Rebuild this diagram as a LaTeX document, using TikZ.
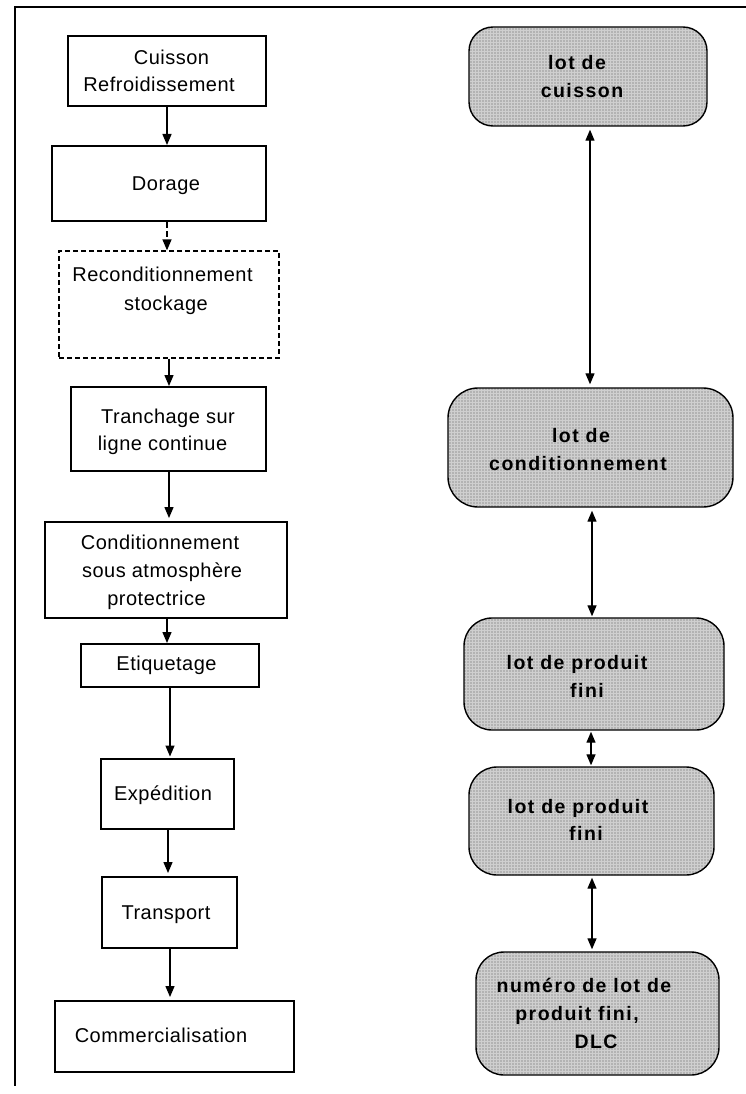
\documentclass[tikz,border=0pt]{standalone}
\usepackage{fontspec}
\setmainfont{Liberation Sans}[LetterSpace=2.5]
\newfontfamily\lotfont{Liberation Sans Bold}[LetterSpace=7.5]
\usetikzlibrary{arrows.meta,patterns.meta}
\begin{document}
\begin{tikzpicture}[x=1pt,y=-1pt,
  stepbox/.style={draw,line width=2pt,rectangle,inner sep=0pt},
  optbox/.style={stepbox,dashed,line width=1.3pt,dash pattern=on 5pt off 3pt},
  lotbox/.style={draw,line width=1.4pt,rectangle,rounded corners=24pt,inner sep=0pt,
    preaction={fill=gray!38},
    pattern={Dots[distance=3pt,radius=0.65pt]},pattern color=black!65},
  steptxt/.style={anchor=base,inner sep=0pt,font=\fontsize{20pt}{24pt}\selectfont},
  lottxt/.style={anchor=base,inner sep=0pt,font=\lotfont\fontsize{19.5pt}{24pt}\selectfont},
  arr/.style={line width=1.3pt,-{Triangle[length=11pt,width=9pt]}},
  darr/.style={line width=1.3pt,{Triangle[length=11pt,width=9pt]}-{Triangle[length=11pt,width=9pt]}}]
\useasboundingbox (0,0) rectangle (746,1094);

% outer frame
\draw[line width=2.5pt] (746,7) -- (15,7) -- (15,1086);

% production steps
\node[stepbox,minimum width=198pt,minimum height=70pt] (b1) at (167,71) {};
\node[stepbox,minimum width=214pt,minimum height=75pt] (b2) at (159,183.5) {};
\node[optbox,minimum width=220pt,minimum height=107pt] (b3) at (169,304.5) {};
\node[stepbox,minimum width=195pt,minimum height=84pt] (b4) at (168.5,429) {};
\node[stepbox,minimum width=242pt,minimum height=96pt] (b5) at (166,570) {};
\node[stepbox,minimum width=178pt,minimum height=43pt] (b6) at (170,665.5) {};
\node[stepbox,minimum width=133pt,minimum height=70pt] (b7) at (167.5,794) {};
\node[stepbox,minimum width=135pt,minimum height=71pt] (b8) at (169.5,912.5) {};
\node[stepbox,minimum width=239pt,minimum height=71pt] (b9) at (174.5,1036.5) {};

\node[steptxt] (t1a) at (171.5,65) {Cuisson};
\node[steptxt] (t1b) at (159,92) {Refroidissement};
\node[steptxt] (t2) at (166,190) {Dorage};
\node[steptxt] (t3a) at (162.5,281) {Reconditionnement};
\node[steptxt] (t3b) at (166,310) {stockage};
\node[steptxt] (t4a) at (168,423) {Tranchage sur};
\node[steptxt] (t4b) at (162.5,450) {ligne continue};
\node[steptxt] (t5a) at (160,549) {Conditionnement};
\node[steptxt] (t5b) at (162,577) {sous atmosphère};
\node[steptxt] (t5c) at (156.5,605) {protectrice};
\node[steptxt] (t6) at (166.5,670.5) {Etiquetage};
\node[steptxt] (t7) at (163,800.5) {Expédition};
\node[steptxt] (t8) at (166,919) {Transport};
\node[steptxt] (t9) at (161,1042.5) {Commercialisation};

\draw[arr] (b1.south) -- (b1.south |- b2.north);
\draw[arr,dash pattern=on 6pt off 3pt] ([xshift=8pt]b2.south) -- ([xshift=8pt]b2.south |- b3.north);
\draw[arr] (b3.south) -- (b3.south |- b4.north);
\draw[arr,shorten >=3pt] ([xshift=0.5pt]b4.south) -- ([xshift=0.5pt]b4.south |- b5.north);
\draw[arr] ([xshift=1pt]b5.south) -- ([xshift=1pt]b5.south |- b6.north);
\draw[arr,shorten >=1.5pt] (b6.south) -- (b6.south |- b7.north);
\draw[arr,shorten >=3pt] ([xshift=0.5pt]b7.south) -- ([xshift=0.5pt]b7.south |- b8.north);
\draw[arr,shorten >=3pt] ([xshift=0.5pt]b8.south) -- ([xshift=0.5pt]b8.south |- b9.north);

% batch identifiers
\node[lotbox,minimum width=238pt,minimum height=99pt] (lA) at (588,76.5) {};
\node[lotbox,minimum width=285pt,minimum height=119pt,rounded corners=30pt] (lB) at (590.5,447.5) {};
\node[lotbox,minimum width=260pt,minimum height=112pt,rounded corners=28pt] (lC) at (594,674) {};
\node[lotbox,minimum width=245pt,minimum height=108pt,rounded corners=28pt] (lD) at (591.5,821) {};
\node[lotbox,minimum width=243pt,minimum height=123pt,rounded corners=28pt] (lE) at (597.5,1013.5) {};

\node[lottxt] (uA1) at (577,70) {lot de};
\node[lottxt] (uA2) at (582,98) {cuisson};
\node[lottxt] (uB1) at (581,442) {lot de};
\node[lottxt] (uB2) at (578,470) {conditionnement};
\node[lottxt] (uC1) at (577,669) {lot de produit};
\node[lottxt] (uC2) at (587,697) {fini};
\node[lottxt] (uD1) at (578,813) {lot de produit};
\node[lottxt] (uD2) at (586,840) {fini};
\node[lottxt] (uE1) at (584,992) {numéro de lot de};
\node[lottxt] (uE2) at (577,1020) {produit fini,};
\node[lottxt] (uE3) at (596,1048) {DLC};

\draw[darr,shorten <=3pt,shorten >=3pt] ([xshift=2pt]lA.south) -- ([xshift=2pt]lA.south |- lB.north);
\draw[darr,shorten <=3pt,shorten >=1pt] ([xshift=1.5pt]lB.south) -- ([xshift=1.5pt]lB.south |- lC.north);
\draw[darr,shorten <=1pt,shorten >=1pt] ([xshift=-3pt]lC.south) -- ([xshift=-3pt]lC.south |- lD.north);
\draw[darr,shorten <=2pt,shorten >=2pt] ([xshift=0.5pt]lD.south) -- ([xshift=0.5pt]lD.south |- lE.north);
\end{tikzpicture}
\end{document}
